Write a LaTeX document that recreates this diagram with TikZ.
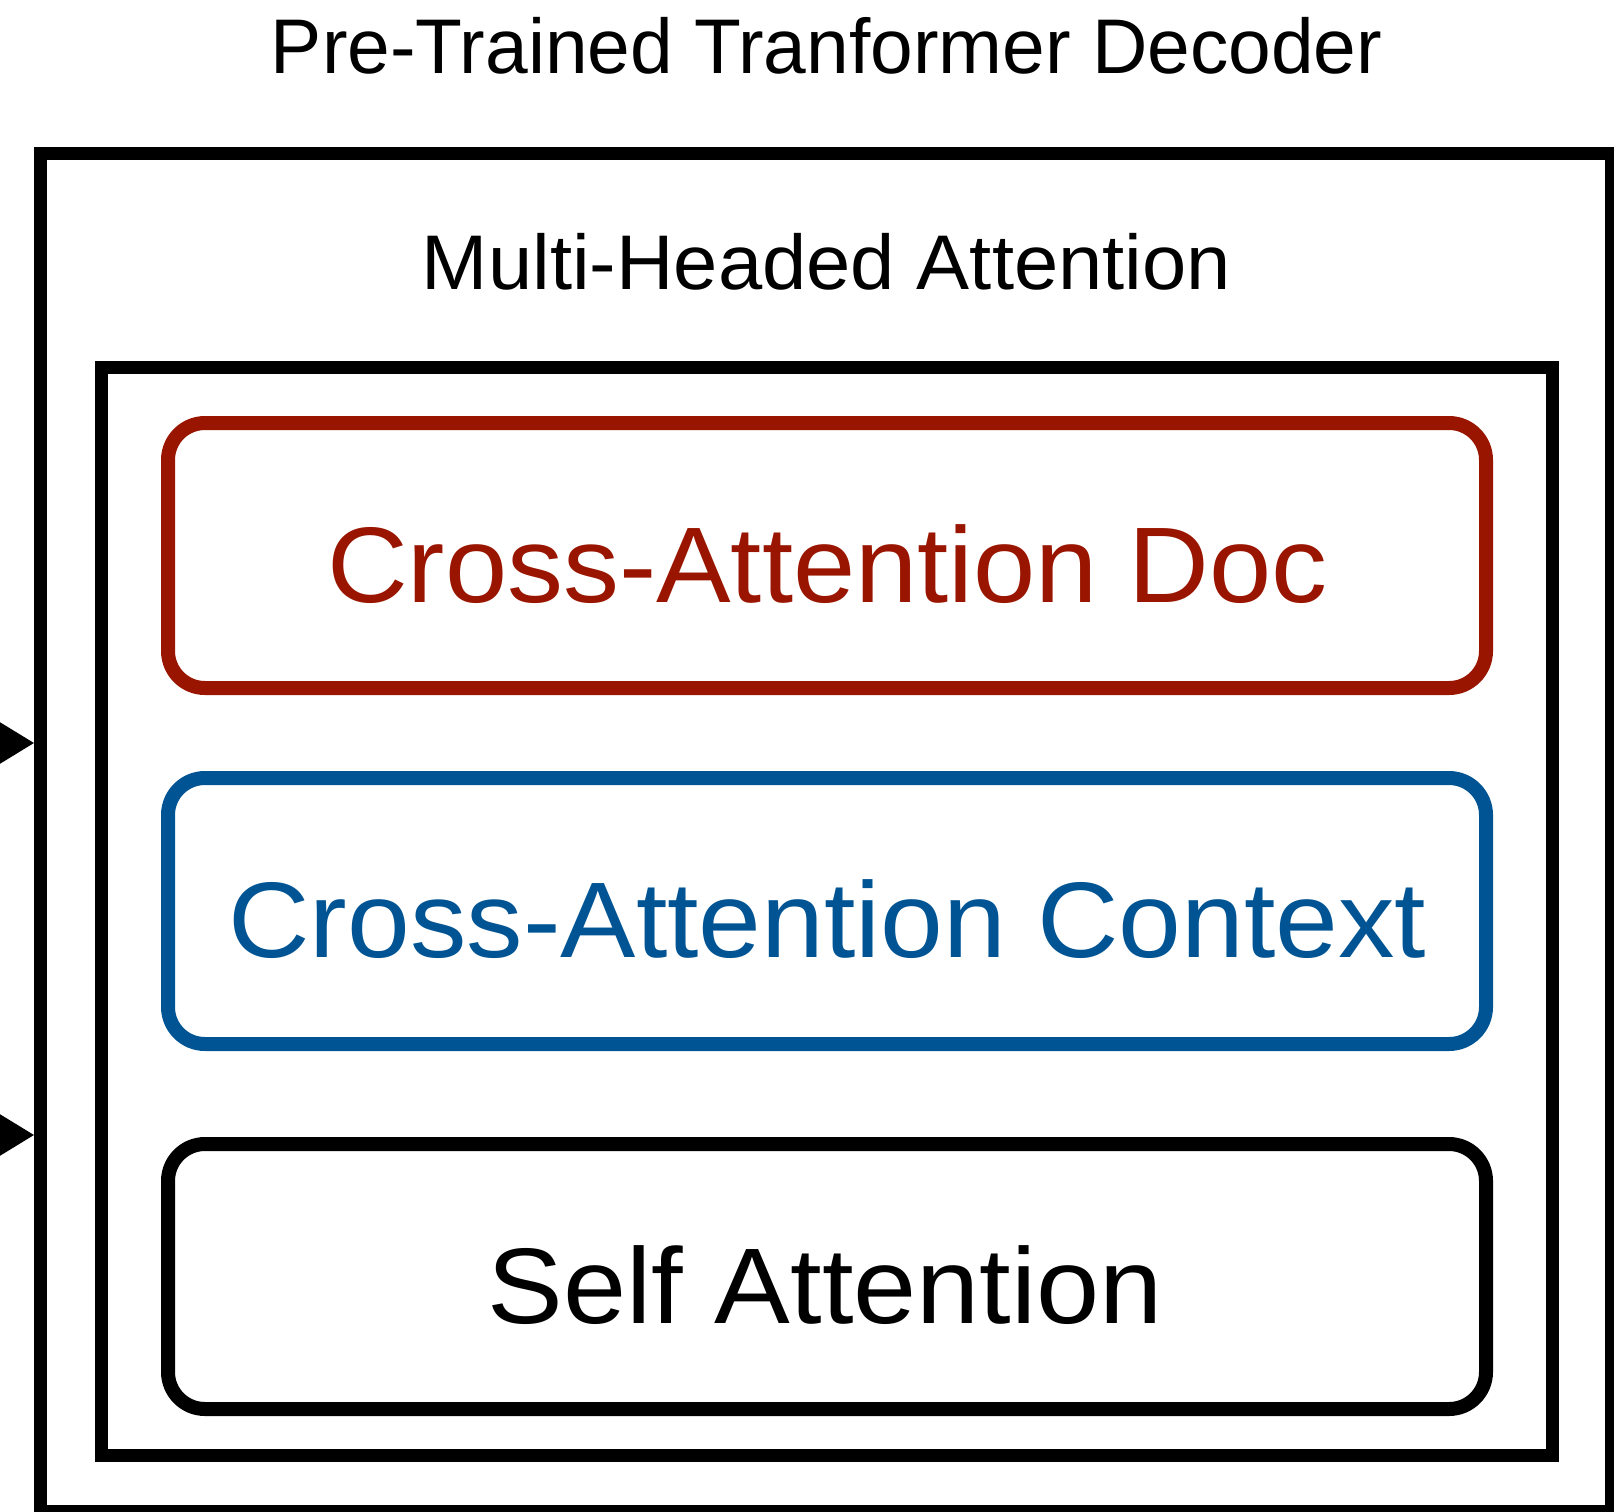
\documentclass[tikz,border=0pt]{standalone}
\usepackage{fontspec}
\setmainfont{Liberation Sans}
\usetikzlibrary{arrows.meta}
\definecolor{docred}{RGB}{153,21,0}
\definecolor{ctxblue}{RGB}{0,84,147}
\begin{document}
\begin{tikzpicture}[x=1pt,y=-1pt,
  frame/.style={draw=black, line width=13pt, rectangle, inner sep=0pt, outer sep=6.5pt},
  attbox/.style={draw, line width=14pt, rectangle, rounded corners=37pt, minimum width=1318pt, inner sep=0pt},
  headtxt/.style={anchor=base, inner sep=0pt, font=\fontsize{77.5}{90}\selectfont},
  boxtxt/.style={anchor=base, inner sep=0pt, font=\fontsize{107.5}{125}\selectfont},
  inarrow/.style={line width=4pt, -{Triangle[length=45pt,width=54pt]}}]
\useasboundingbox (0,0) rectangle (1614,1512);
\clip (0,0) rectangle (1614,1512);
% outer frame (decoder)
\node[frame, minimum width=1570.5pt, minimum height=1358pt] (outer) at (825.75,832.5) {};
% inner frame (multi-headed attention)
\node[frame, minimum width=1451pt, minimum height=1087.5pt] (inner) at (826.5,911.25) {};
% attention boxes
\node[attbox, draw=docred, minimum height=265pt] (doc) at (827,555.5) {};
\node[attbox, draw=ctxblue, minimum height=266pt] (ctx) at (827,911) {};
\node[attbox, draw=black, minimum height=265pt] (self) at (827,1276.5) {};
% texts
\node[headtxt] (title) at (826.5,74) {\resizebox{1111pt}{\height}{Pre-Trained Tranformer Decoder}};
\node[headtxt] (mha) at (826.5,289) {\resizebox{809pt}{\height}{Multi-Headed Attention}};
\node[boxtxt, text=docred] (doctxt) at (827.5,602) {\resizebox{1001pt}{\height}{Cross-Attention Doc}};
\node[boxtxt, text=ctxblue] (ctxtxt) at (827.5,957) {\resizebox{1198pt}{\height}{Cross-Attention Context}};
\node[boxtxt] (selftxt) at (825.5,1323) {\resizebox{675pt}{\height}{Self Attention}};
% incoming arrows
\coordinate (in1) at (-80,743);
\coordinate (in2) at (-80,1135);
\draw[inarrow] (in1) -- (outer.west |- in1);
\draw[inarrow] (in2) -- (outer.west |- in2);
\end{tikzpicture}
\end{document}
